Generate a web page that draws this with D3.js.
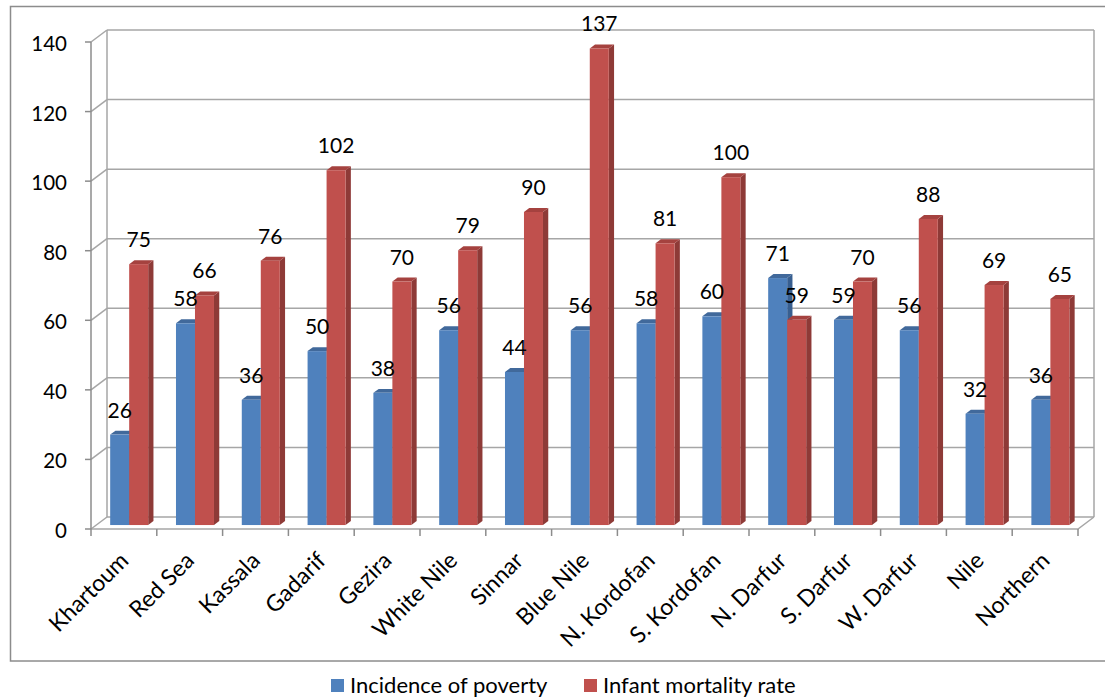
<!DOCTYPE html>
<html>
<head>
<meta charset="utf-8">
<script src="https://cdn.jsdelivr.net/npm/d3@7"></script>
<style>
    body { margin: 0; background: #fff; }
    svg text { font-family: Lato, "Open Sans", sans-serif; fill: #000; }
</style>
</head>
<body>
<div id="chart"></div>
<script>
var categories = ['Khartoum', 'Red Sea', 'Kassala', 'Gadarif', 'Gezira', 'White Nile', 'Sinnar',
    'Blue Nile', 'N. Kordofan', 'S. Kordofan', 'N. Darfur', 'S. Darfur', 'W. Darfur', 'Nile', 'Northern'];
var poverty = [26, 58, 36, 50, 38, 56, 44, 56, 58, 60, 71, 59, 56, 32, 36];
var mortality = [75, 66, 76, 102, 70, 79, 90, 137, 81, 100, 59, 70, 88, 69, 65];
var seriesNames = ['Incidence of poverty', 'Infant mortality rate'];
var yTicks = [0, 20, 40, 60, 80, 100, 120, 140];

function drawChart() {
    var width = 1105, height = 698;
    var plotLeft = 91, plotRight = 1078, plotBottom = 529, plotTop = 42;
    var depthX = 16, depthY = -12;

    var colors = {
        front: ['#4f81bd', '#c0504d'],
        side: ['#385f90', '#8e3a37'],
        topFace: ['#41699b', '#a5423f']
    };

    var svg = d3.select('#chart').append('svg')
        .attr('width', width).attr('height', height);

    // outer chart border
    svg.append('rect')
        .attr('x', 10.5).attr('y', 6.5)
        .attr('width', 1110).attr('height', 654.5)
        .attr('fill', 'none')
        .attr('stroke', '#8c8c8c')
        .attr('stroke-width', 1.5);

    var x = d3.scaleBand().domain(categories).range([plotLeft, plotRight]);
    var y = d3.scaleLinear().domain([0, 140]).range([plotBottom, plotTop]);

    // projection: front-axis coordinates plus depth z in [0, 1]
    function px(xf, z) { return xf + depthX * z; }
    function py(yf, z) { return yf + depthY * z; }

    var walls = svg.append('g').attr('class', 'walls')
        .attr('stroke', '#a6a6a6').attr('stroke-width', 1.5).attr('fill', 'none');

    // back wall gridlines
    walls.selectAll('line.grid')
        .data(yTicks)
        .enter()
            .append('line')
            .attr('class', 'grid')
            .attr('x1', px(plotLeft, 1)).attr('x2', px(plotRight, 1))
            .attr('y1', (d) => py(y(d), 1)).attr('y2', (d) => py(y(d), 1));

    // side wall diagonals
    walls.selectAll('line.side')
        .data(yTicks)
        .enter()
            .append('line')
            .attr('class', 'side')
            .attr('x1', px(plotLeft, 0)).attr('x2', px(plotLeft, 1))
            .attr('y1', (d) => y(d)).attr('y2', (d) => py(y(d), 1));

    // back wall verticals
    walls.append('line')
        .attr('x1', px(plotLeft, 1)).attr('x2', px(plotLeft, 1))
        .attr('y1', py(y(140), 1)).attr('y2', py(y(0), 1));
    walls.append('line')
        .attr('x1', px(plotRight, 1)).attr('x2', px(plotRight, 1))
        .attr('y1', py(y(140), 1)).attr('y2', py(y(0), 1));

    // floor
    walls.append('path')
        .attr('d', 'M' + px(plotLeft, 0) + ',' + y(0) +
            'L' + px(plotRight, 0) + ',' + y(0) +
            'L' + px(plotRight, 1) + ',' + py(y(0), 1));

    // front value axis
    svg.append('line')
        .attr('x1', plotLeft).attr('x2', plotLeft)
        .attr('y1', y(140)).attr('y2', y(0))
        .attr('stroke', '#8c8c8c').attr('stroke-width', 1.5);

    svg.selectAll('line.ytick')
        .data(yTicks)
        .enter()
            .append('line')
            .attr('class', 'ytick')
            .attr('x1', plotLeft - 6).attr('x2', plotLeft)
            .attr('y1', (d) => y(d)).attr('y2', (d) => y(d))
            .attr('stroke', '#8c8c8c').attr('stroke-width', 1.5);

    svg.selectAll('text.ylabel')
        .data(yTicks)
        .enter()
            .append('text')
            .attr('class', 'ylabel')
            .attr('x', 67)
            .attr('y', (d) => y(d) + 1)
            .attr('text-anchor', 'end')
            .attr('dominant-baseline', 'central')
            .style('font-size', '20.5px')
            .text((d) => d);

    // category ticks
    svg.selectAll('line.xtick')
        .data(d3.range(categories.length + 1))
        .enter()
            .append('line')
            .attr('class', 'xtick')
            .attr('x1', (d) => plotLeft + d * x.bandwidth())
            .attr('x2', (d) => plotLeft + d * x.bandwidth())
            .attr('y1', plotBottom).attr('y2', plotBottom + 7)
            .attr('stroke', '#8c8c8c').attr('stroke-width', 1.5);

    svg.selectAll('text.xlabel')
        .data(categories)
        .enter()
            .append('text')
            .attr('class', 'xlabel')
            .attr('text-anchor', 'end')
            .attr('transform', (d) => 'translate(' + (x(d) + x.bandwidth() / 2 + 6) + ',' + (plotBottom + 33) + ') rotate(-45)')
            .style('font-size', '23px')
            .text((d) => d);

    // bars
    var barW = 19, z0 = 0.33, z1 = 0.66;
    var bars = [];
    categories.forEach((c, i) => {
        [poverty[i], mortality[i]].forEach((v, s) => {
            var xf = x(c) + x.bandwidth() / 2 - barW + s * barW;
            bars.push({ cat: c, s: s, v: v, xf: xf });
        });
    });

    function pts(list) {
        return list.map((p) => p[0] + ',' + p[1]).join(' ');
    }

    var bar = svg.append('g').attr('class', 'bars')
        .selectAll('g.bar')
        .data(bars)
        .enter()
            .append('g')
            .attr('class', 'bar');

    bar.append('polygon')
        .attr('points', (d) => pts([
            [px(d.xf + barW, z0), py(y(d.v), z0)],
            [px(d.xf + barW, z1), py(y(d.v), z1)],
            [px(d.xf + barW, z1), py(y(0), z1)],
            [px(d.xf + barW, z0), py(y(0), z0)]
        ]))
        .attr('fill', (d) => colors.side[d.s]);

    bar.append('polygon')
        .attr('points', (d) => pts([
            [px(d.xf, z0), py(y(d.v), z0)],
            [px(d.xf, z1), py(y(d.v), z1)],
            [px(d.xf + barW, z1), py(y(d.v), z1)],
            [px(d.xf + barW, z0), py(y(d.v), z0)]
        ]))
        .attr('fill', (d) => colors.topFace[d.s]);

    bar.append('rect')
        .attr('x', (d) => px(d.xf, z0))
        .attr('y', (d) => py(y(d.v), z0))
        .attr('width', barW)
        .attr('height', (d) => y(0) - y(d.v))
        .attr('fill', (d) => colors.front[d.s]);

    // data labels
    svg.selectAll('text.value')
        .data(bars)
        .enter()
            .append('text')
            .attr('class', 'value')
            .attr('x', (d) => px(d.xf + barW / 2, z0))
            .attr('y', (d) => py(y(d.v), z0) - 17)
            .attr('text-anchor', 'middle')
            .style('font-size', '21px')
            .text((d) => d.v);

    // legend
    var legendX = [331, 584];
    var legend = svg.selectAll('g.legend')
        .data(seriesNames)
        .enter()
            .append('g')
            .attr('class', 'legend')
            .attr('transform', (d, i) => 'translate(' + legendX[i] + ',679)');
    legend.append('rect')
        .attr('width', 13).attr('height', 13)
        .attr('fill', (d, i) => colors.front[i]);
    legend.append('text')
        .attr('x', 19).attr('y', 14)
        .style('font-size', '22px')
        .text((d) => d);
}

drawChart();
</script>
</body>
</html>
